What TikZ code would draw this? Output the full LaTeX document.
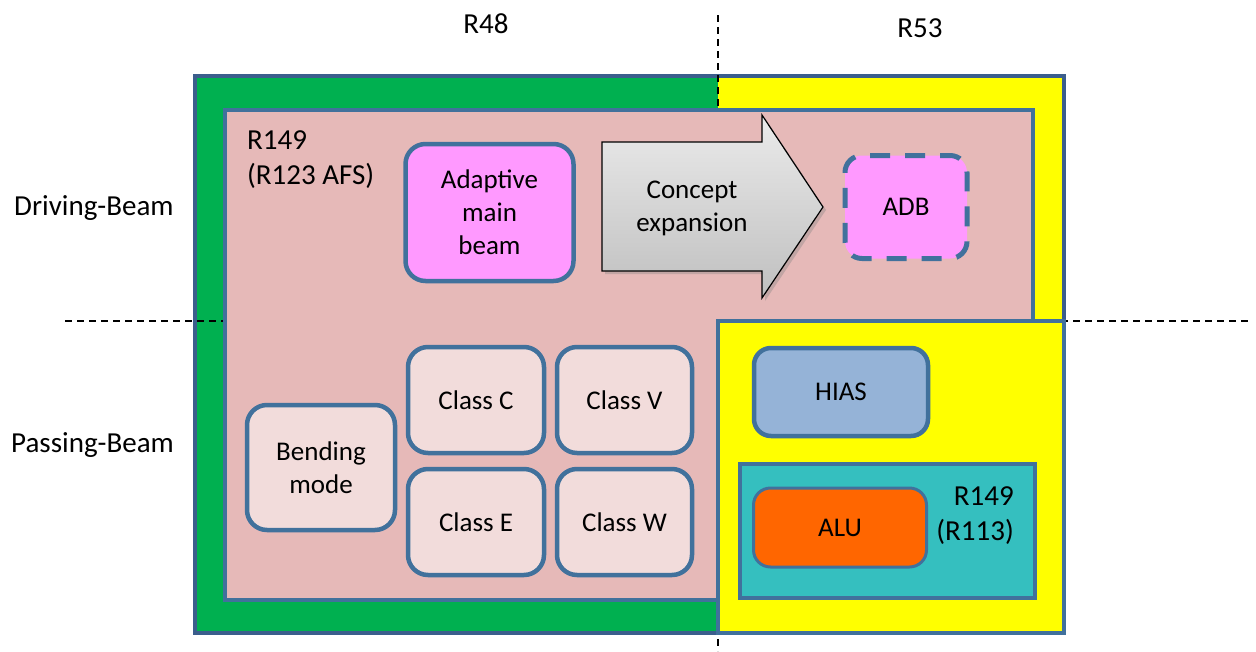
\documentclass[tikz,border=0pt]{standalone}
\usepackage{fontspec}
\setmainfont{Carlito}
\usetikzlibrary{shadows}
\definecolor{bord}{HTML}{41719C}
\definecolor{bordout}{HTML}{3B5E8C}
\definecolor{grn}{HTML}{00B050}
\definecolor{ylw}{HTML}{FFFF00}
\definecolor{rose}{HTML}{E6B9B8}
\definecolor{lrose}{HTML}{F2DCDB}
\definecolor{mag}{HTML}{FF99FF}
\definecolor{hias}{HTML}{95B3D7}
\definecolor{teal}{HTML}{35BFBF}
\definecolor{orng}{HTML}{FF6600}
\tikzset{
  lbl/.style={font=\fontsize{29}{35}\selectfont, inner sep=0pt},
  rlbl/.style={font=\fontsize{29}{35}\selectfont, inner sep=0pt},
  txt/.style={font=\fontsize{27}{33}\selectfont, inner sep=0pt, align=center},
  rbox/.style={draw=bord, line width=4.5pt, rounded corners=20pt, inner sep=0pt,
    font=\fontsize{27}{33}\selectfont, align=center},
  region/.style={draw=bord, line width=4.5pt},
  divider/.style={black, line width=1.4pt, dash pattern=on 7pt off 5pt}
}
\begin{document}
\begin{tikzpicture}[x=1pt,y=-1pt]
\useasboundingbox (0,0) rectangle (1256,651);
% outer area
\fill[grn] (195,76) rectangle (718,633);
\fill[ylw] (718,76) rectangle (1064,633);
\draw[draw=bordout, line width=4.5pt] (195,76) rectangle (1064,633);
% dividers
\coordinate (vt) at (718,15);
\coordinate (vb) at (718,651);
\coordinate (hl) at (65,321);
\coordinate (hr) at (1250,321);
\draw[divider] (vt) -- (vb);
\draw[divider] (hl) -- (hr);
% pink region
\draw[region, fill=rose] (225,110) rectangle (1033,600);
% yellow lower right
\draw[region, fill=ylw] (718,321) rectangle (1064,633);
% labels
\node[lbl] (r48) at (486,24) {R48};
\node[lbl] (r53) at (920,28) {R53};
\node[lbl, anchor=west] (drv) at (14,208) {Driving-Beam};
\node[lbl, anchor=west] (pas) at (11,445) {Passing-Beam};
\node[rlbl, anchor=west, align=left] (r149a) at (247,160) {R149\\(R123 AFS)};
% boxes
\node[rbox, fill=mag, minimum width=168pt, minimum height=137pt] (amb) at (489.5,212.5) {Adaptive\\main\\beam};
\node[rbox, fill=mag, line width=5pt, dash pattern=on 20pt off 15pt, dash phase=10pt, rounded corners=17pt, minimum width=122pt, minimum height=103pt] (adb) at (906,207) {ADB};
\node[rbox, fill=lrose, minimum width=148pt, minimum height=125pt] (bend) at (321,467.5) {Bending\\mode};
\node[rbox, fill=lrose, minimum width=136pt, minimum height=106pt] (cc) at (476,400) {Class C};
\node[rbox, fill=lrose, minimum width=135pt, minimum height=106pt] (cv) at (624.5,400) {Class V};
\node[rbox, fill=lrose, minimum width=136pt, minimum height=106pt] (ce) at (476,522) {Class E};
\node[rbox, fill=lrose, minimum width=135pt, minimum height=106pt] (cw) at (624.5,522) {Class W};
\node[rbox, fill=hias, rounded corners=17pt, minimum width=174pt, minimum height=88pt] (hias) at (841,392) {HIAS};
\node[draw=bord, line width=4.5pt, fill=teal, minimum width=295pt, minimum height=134pt, inner sep=0pt] (tealbox) at (887.5,531) {};
\node[rbox, fill=orng, line width=3pt, rounded corners=17pt, minimum width=173pt, minimum height=79pt] (alu) at (840,527.5) {ALU};
\node[rlbl, align=right, anchor=east] (r149b) at (1014,516) {R149\\(R113)};
% arrow
\draw[black, line width=1.2pt, top color=black!8, bottom color=black!25,
  drop shadow={shadow xshift=3pt, shadow yshift=-3pt, opacity=0.35}]
  (602,142) -- (762,142) -- (762,115) -- (823,207) -- (762,298) -- (762,271) -- (602,271) -- cycle;
\node[txt, align=center] (conc) at (692,208) {Concept\\expansion};
\end{tikzpicture}
\end{document}
